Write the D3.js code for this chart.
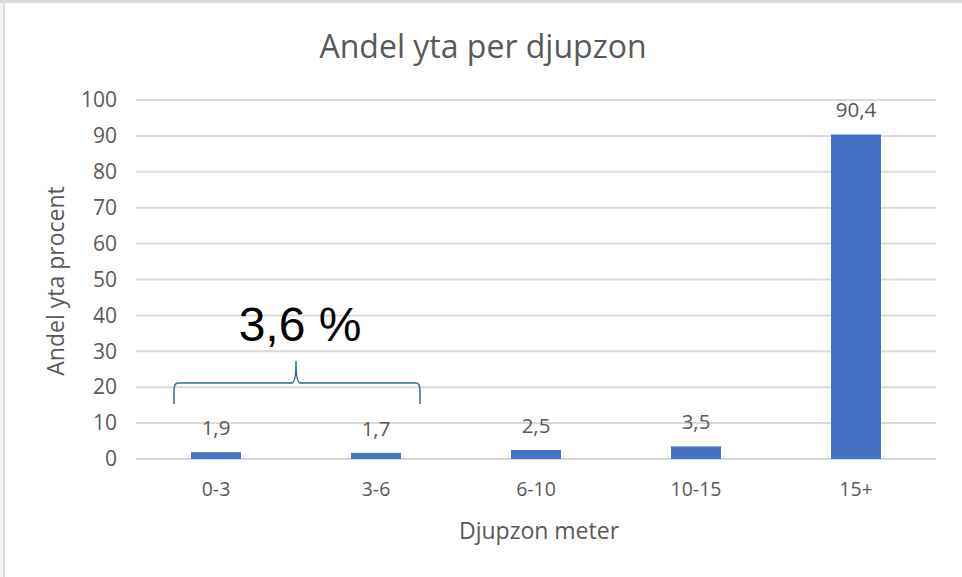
<!DOCTYPE html>
<html>
<head>
<meta charset="utf-8">
<script src="https://cdn.jsdelivr.net/npm/d3@7"></script>
<style>
  html, body { margin: 0; padding: 0; background: #fff; }
  svg { display: block; }
</style>
</head>
<body>
<svg id="chart" width="962" height="577"></svg>
<script>
const categories = ["0-3", "3-6", "6-10", "10-15", "15+"];
const values = [1.9, 1.7, 2.5, 3.5, 90.4];
const valueLabels = ["1,9", "1,7", "2,5", "3,5", "90,4"];
const yTicks = [0, 10, 20, 30, 40, 50, 60, 70, 80, 90, 100];
const title = "Andel yta per djupzon";
const xTitle = "Djupzon meter";
const yTitle = "Andel yta procent";
const annotationText = "3,6 %";
// brace: spans categories 0-3 and 3-6; y levels in data units (end, bar, tip)
const braceCats = ["0-3", "3-6"];
const braceLevels = [15.3, 21.2, 27.3];

const svg = d3.select("#chart");
const W = 962, H = 577;
const m = { left: 136, right: 26, top: 100, bottom: 118 };

// frame
svg.append("rect").attr("x", 0).attr("y", 0).attr("width", 3).attr("height", H).attr("fill", "#eef3f3");
svg.append("rect").attr("x", 3).attr("y", 0).attr("width", 2).attr("height", H).attr("fill", "#d9d9d9");
svg.append("rect").attr("x", 0).attr("y", 0).attr("width", W).attr("height", 3).attr("fill", "#d9d9d9");

const x = d3.scaleBand().domain(categories).range([m.left, W - m.right]).paddingInner(0.6875).paddingOuter(0.34375);
const y = d3.scaleLinear().domain([0, 100]).range([459, 100]);

const font = "'Open Sans', 'Segoe UI', sans-serif";
const grey = "#595959";

// gridlines
svg.append("g").selectAll("line").data(yTicks).join("line")
  .attr("x1", m.left).attr("x2", W - m.right)
  .attr("y1", d => y(d)).attr("y2", d => y(d))
  .attr("stroke", "#d9d9d9").attr("stroke-width", 2);

// y axis labels
const yAxis = d3.axisLeft(y).tickValues(yTicks).tickSize(0).tickPadding(0).tickFormat(d3.format("d"));
const gy = svg.append("g").attr("transform", `translate(${117},0)`).call(yAxis);
gy.select(".domain").remove();
gy.selectAll("text").attr("font-family", font).attr("font-size", 21).attr("fill", grey);

// x axis labels
const xAxis = d3.axisBottom(x).tickSize(0).tickPadding(0);
const gx = svg.append("g").attr("transform", `translate(0,${482})`).call(xAxis);
gx.select(".domain").remove();
gx.selectAll("text").attr("font-family", font).attr("font-size", 19.5).attr("fill", grey);

// bars
svg.append("g").selectAll("rect").data(values).join("rect")
  .attr("x", (d, i) => x(categories[i]))
  .attr("width", x.bandwidth())
  .attr("y", d => y(d))
  .attr("height", d => y(0) - y(d))
  .attr("fill", "#4472c4");

// data labels
svg.append("g").selectAll("text").data(values).join("text")
  .attr("x", (d, i) => x(categories[i]) + x.bandwidth() / 2)
  .attr("y", d => y(d) - 17)
  .attr("text-anchor", "middle")
  .attr("font-family", font).attr("font-size", 20.5).attr("fill", grey)
  .text((d, i) => valueLabels[i]);

// title
svg.append("text").attr("x", 483).attr("y", 58).attr("text-anchor", "middle")
  .attr("font-family", font).attr("font-size", 32).attr("fill", grey).text(title);

// x title
svg.append("text").attr("x", 539).attr("y", 539).attr("text-anchor", "middle")
  .attr("font-family", font).attr("font-size", 23).attr("fill", grey).text(xTitle);

// y title
svg.append("text").attr("transform", `translate(64,${281}) rotate(-90)`).attr("text-anchor", "middle")
  .attr("font-family", font).attr("font-size", 23).attr("fill", grey).text(yTitle);

// brace
const bx0 = x(braceCats[0]) - 17;
const bx1 = x(braceCats[1]) + x.bandwidth() + 19;
const bmid = (x(braceCats[0]) + x(braceCats[1]) + x.bandwidth()) / 2;
const yEnd = y(braceLevels[0]), yBar = y(braceLevels[1]), yTip = y(braceLevels[2]);
const r = 4;
const p = d3.path();
p.moveTo(bx0, yEnd);
p.lineTo(bx0, yBar + r * 2);
p.quadraticCurveTo(bx0, yBar, bx0 + r, yBar);
p.lineTo(bmid - 4, yBar);
p.quadraticCurveTo(bmid, yBar, bmid, yTip);
p.quadraticCurveTo(bmid, yBar, bmid + 4, yBar);
p.lineTo(bx1 - r, yBar);
p.quadraticCurveTo(bx1, yBar, bx1, yBar + r * 2);
p.lineTo(bx1, yEnd);
svg.append("path").attr("d", p.toString()).attr("fill", "none")
  .attr("stroke", "#2a7090").attr("stroke-width", 1.5);

// annotation text
svg.append("text").attr("x", bmid + 4).attr("y", 341).attr("text-anchor", "middle")
  .attr("font-family", "'Liberation Sans', Arial, sans-serif").attr("font-size", 48).attr("fill", "#000")
  .text(annotationText);
</script>
</body>
</html>
